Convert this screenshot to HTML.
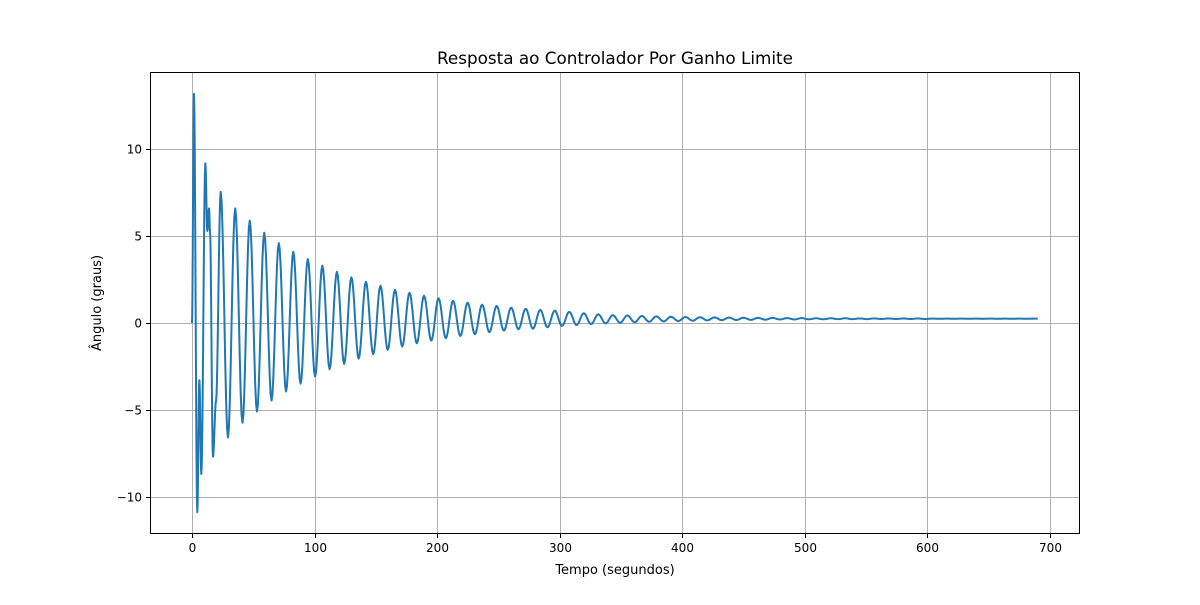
<!DOCTYPE html>
<html><head><meta charset="utf-8"><style>
body{margin:0;background:#fff;font-family:"Liberation Sans","DejaVu Sans",sans-serif}
svg text{font-family:"DejaVu Sans","Liberation Sans",sans-serif}
</style></head><body>
<svg id="chart" width="1200" height="600" viewBox="0 0 1200 600" xmlns="http://www.w3.org/2000/svg">
<rect width="1200" height="600" fill="#fff"/>
<text x="615" y="64" text-anchor="middle" font-size="16.8">Resposta ao Controlador Por Ganho Limite</text>
<text x="615" y="574" text-anchor="middle" font-size="13">Tempo (segundos)</text>
<text transform="translate(101,303) rotate(-90)" text-anchor="middle" font-size="13">Ângulo (graus)</text>
<g id="grid"></g><g id="series"></g>
<rect x="150.5" y="72.5" width="929" height="461" fill="none" stroke="#000" stroke-width="1"/>
<g id="ticks"></g>
</svg>
<script>
const xTicks=[0,100,200,300,400,500,600,700];
const yTicks=[-10,-5,0,5,10];
const earlyT=[0,1.6,4.3,6,7.6,10.9,12.5,13.9,14.7,17.1,19.6];
const earlyY=[0,13.2,-10.9,-3.3,-8.7,9.2,5.3,6.6,5.3,-7.7,-4.5];
const firstPeakT=23.4;
const period=11.85;
const endT=690;
const peakVals=[7.55,6.6,5.9,5.2,4.6,4.1,3.68,3.3,2.95,2.63,2.37,2.14,1.91,1.74,1.57,1.42,1.28,1.17,1.05,0.98,0.88,0.82,0.75,0.71,0.64,0.56,0.5,0.45,0.43,0.4,0.38,0.36,0.34,0.33,0.32,0.31,0.3,0.29,0.29,0.28,0.28,0.27,0.27,0.27,0.26,0.26,0.26,0.26,0.26,0.25,0.25,0.25,0.25,0.25,0.25,0.25,0.25];
const troughVals=[-6.6,-5.75,-5.1,-4.47,-3.95,-3.5,-3.08,-2.66,-2.36,-2.05,-1.8,-1.55,-1.36,-1.17,-1.02,-0.88,-0.75,-0.65,-0.53,-0.44,-0.36,-0.33,-0.25,-0.17,-0.12,-0.07,-0.03,0.01,0.04,0.07,0.09,0.11,0.13,0.15,0.16,0.17,0.18,0.19,0.2,0.2,0.21,0.21,0.22,0.22,0.22,0.23,0.23,0.23,0.23,0.24,0.24,0.24,0.24,0.24,0.24,0.24,0.24];
const endVal=0.25;

const X0=150,X1=1080,Y0=72,Y1=534;
const xMin=-34.27,xMax=724.5,yMin=-12.16,yMax=14.46;
const sx=v=>X0+(v-xMin)/(xMax-xMin)*(X1-X0);
const sy=v=>Y1-(v-yMin)/(yMax-yMin)*(Y1-Y0);
const px=v=>Math.round(v)+0.5;
const NS="http://www.w3.org/2000/svg";
const mk=(t,a)=>{const e=document.createElementNS(NS,t);for(const k in a)e.setAttribute(k,a[k]);return e;};
const grid=document.getElementById('grid'),ticks=document.getElementById('ticks'),series=document.getElementById('series');
xTicks.forEach(v=>{const x=px(sx(v));
 const g=mk('line',{x1:x,x2:x,y1:Y0,y2:Y1,stroke:'#b0b0b0','stroke-width':1});
 
 grid.appendChild(g);
 const t=mk('line',{x1:x,x2:x,y1:Y1,y2:Y1+4,stroke:'#000'});
 
 ticks.appendChild(t);
 const l=mk('text',{x:x,y:Y1+18,'text-anchor':'middle','font-size':12});l.textContent=v;
 
 ticks.appendChild(l);});
yTicks.forEach(v=>{const y=px(sy(v));
 const g=mk('line',{x1:X0,x2:X1,y1:y,y2:y,stroke:'#b0b0b0','stroke-width':1});
 
 grid.appendChild(g);
 const t=mk('line',{x1:X0-4,x2:X0,y1:y,y2:y,stroke:'#000'});
 
 ticks.appendChild(t);
 const l=mk('text',{x:X0-8,y:y+4,'text-anchor':'end','font-size':12});l.textContent=v<0?'\u2212'+(-v):v;
 
 ticks.appendChild(l);});
const ext=[];
earlyT.forEach((t,i)=>ext.push([t,earlyY[i]]));
for(let k=0;k<peakVals.length;k++){
 const tp=firstPeakT+k*period; if(tp>endT)break; ext.push([tp,peakVals[k]]);
 const tt=tp+period/2; if(tt>endT)break; ext.push([tt,troughVals[k]]);}
ext.push([endT,endVal]);
let d='';
for(let i=0;i<ext.length-1;i++){
 const [ta,a]=ext[i],[tb,b]=ext[i+1];const n=8;
 for(let j=(i?1:0);j<=n;j++){const s=j/n;const t=ta+(tb-ta)*s;const y=a+(b-a)*(1-Math.cos(Math.PI*s))/2;
  d+=(d?'L':'M')+sx(t).toFixed(2)+','+sy(y).toFixed(2);}}
const p=mk('path',{d:d,fill:'none',stroke:'#1f77b4','stroke-width':2,'stroke-linejoin':'round'});


series.appendChild(p);
</script>
</body></html>
